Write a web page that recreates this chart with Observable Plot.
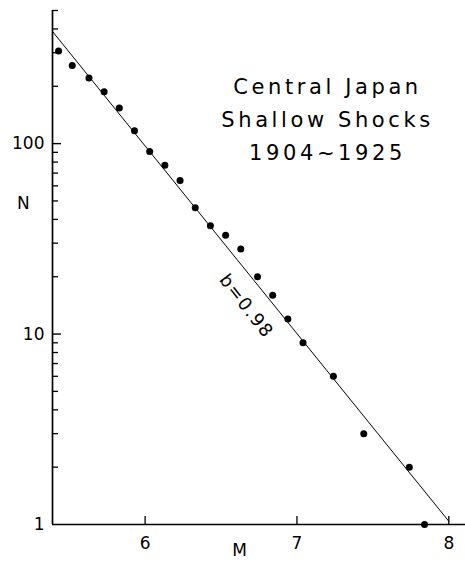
<!DOCTYPE html>
<html><head><meta charset="utf-8">
<script src="https://cdn.jsdelivr.net/npm/d3@7"></script>
<script src="https://cdn.jsdelivr.net/npm/@observablehq/plot@0.6"></script>
<style>
html,body{margin:0;padding:0;background:#fff;}
svg{display:block;}
</style></head><body><div id="chart"></div>
<script>
// Magnitude M and cumulative number N
const magnitude = [5.43, 5.52, 5.63, 5.73, 5.83, 5.93, 6.03, 6.13, 6.23, 6.33, 6.43, 6.53, 6.63, 6.74, 6.84, 6.94, 7.04, 7.24, 7.44, 7.74, 7.84];
const count     = [306, 257, 221, 187, 154, 117, 91, 77, 64, 46, 37, 33, 28, 20, 16, 12, 9, 6, 3, 2, 1];
// fitted line log N = a - 0.98 M, endpoints
const fitM = [5.39, 8.0];
const fitN = [388, 1.04];
const xDomain = [5.39, 8.11];
const yDomain = [1, 500];
const xTicks = [6, 7, 8];
const yMajor = [1, 10, 100];
const yMinor = [2, 3, 4, 5, 6, 7, 8, 9, 20, 30, 40, 50, 60, 70, 80, 90, 200, 300, 400, 500];
const titleLines = ["Central Japan", "Shallow Shocks", "1904~1925"];
const slopeLabel = [{M: 6.666, N: 14, text: "b=0.98"}];

const points = magnitude.map((m, i) => ({M: m, N: count[i]}));
const fit = fitM.map((m, i) => ({M: m, N: fitN[i]}));

const W = 465, H = 565, ML = 52, MR = 0, MT = 10, MB = 41;
const frameW = W - ML - MR, frameH = H - MT - MB;

const chart = Plot.plot({
  width: W, height: H,
  marginLeft: ML, marginRight: MR, marginTop: MT, marginBottom: MB,
  style: {fontFamily: "DejaVu Sans", color: "black", background: "white"},
  x: {domain: xDomain},
  y: {type: "log", domain: yDomain},
  marks: [
    Plot.ruleX([xDomain[0]], {stroke: "black", strokeWidth: 1.7}),
    Plot.ruleY([yDomain[0]], {stroke: "black", strokeWidth: 1.7}),
    Plot.tickY(yMajor.slice(1), {y: d => d, insetRight: frameW - 9, stroke: "black", strokeWidth: 1.4}),
    Plot.tickY(yMinor, {y: d => d, insetRight: frameW - 6, stroke: "black", strokeWidth: 1.3}),
    Plot.tickX(xTicks, {x: d => d, insetTop: frameH - 8, stroke: "black", strokeWidth: 1.3}),
    Plot.axisY({ticks: yMajor, tickSize: 0, tickPadding: 8, fontSize: 17, tickFormat: d => String(d), label: null}),
    Plot.axisX({ticks: xTicks, tickSize: 0, tickPadding: 12, fontSize: 17, tickFormat: d => String(d), label: null}),
    Plot.text(["M"], {text: d => d, frameAnchor: "bottom", dx: -19.5, dy: 31, fontSize: 17}),
    Plot.text(["N"], {text: d => d, frameAnchor: "left", dx: -35.5, dy: -64, fontSize: 17}),
    Plot.line(fit, {x: "M", y: "N", stroke: "black", strokeWidth: 1}),
    Plot.dot(points, {x: "M", y: "N", r: 3.5, fill: "black", stroke: null}),
    Plot.text(slopeLabel, {x: "M", y: "N", text: "text", rotate: 52, fontSize: 18}),
    Plot.text([titleLines.join("\n")], {text: d => d, frameAnchor: "top-right", dx: -138, dy: 106, textAnchor: "middle", lineAnchor: "middle", lineHeight: 1.58, fontSize: 21})
  ]
});
chart.querySelectorAll("text").forEach(t => {
  const s = t.textContent;
  if (s.includes("Central")) t.style.letterSpacing = "3.6px";
  if (s.includes("b=0.98")) t.style.letterSpacing = "1.5px";
});
document.getElementById("chart").appendChild(chart);
</script>
</body></html>
